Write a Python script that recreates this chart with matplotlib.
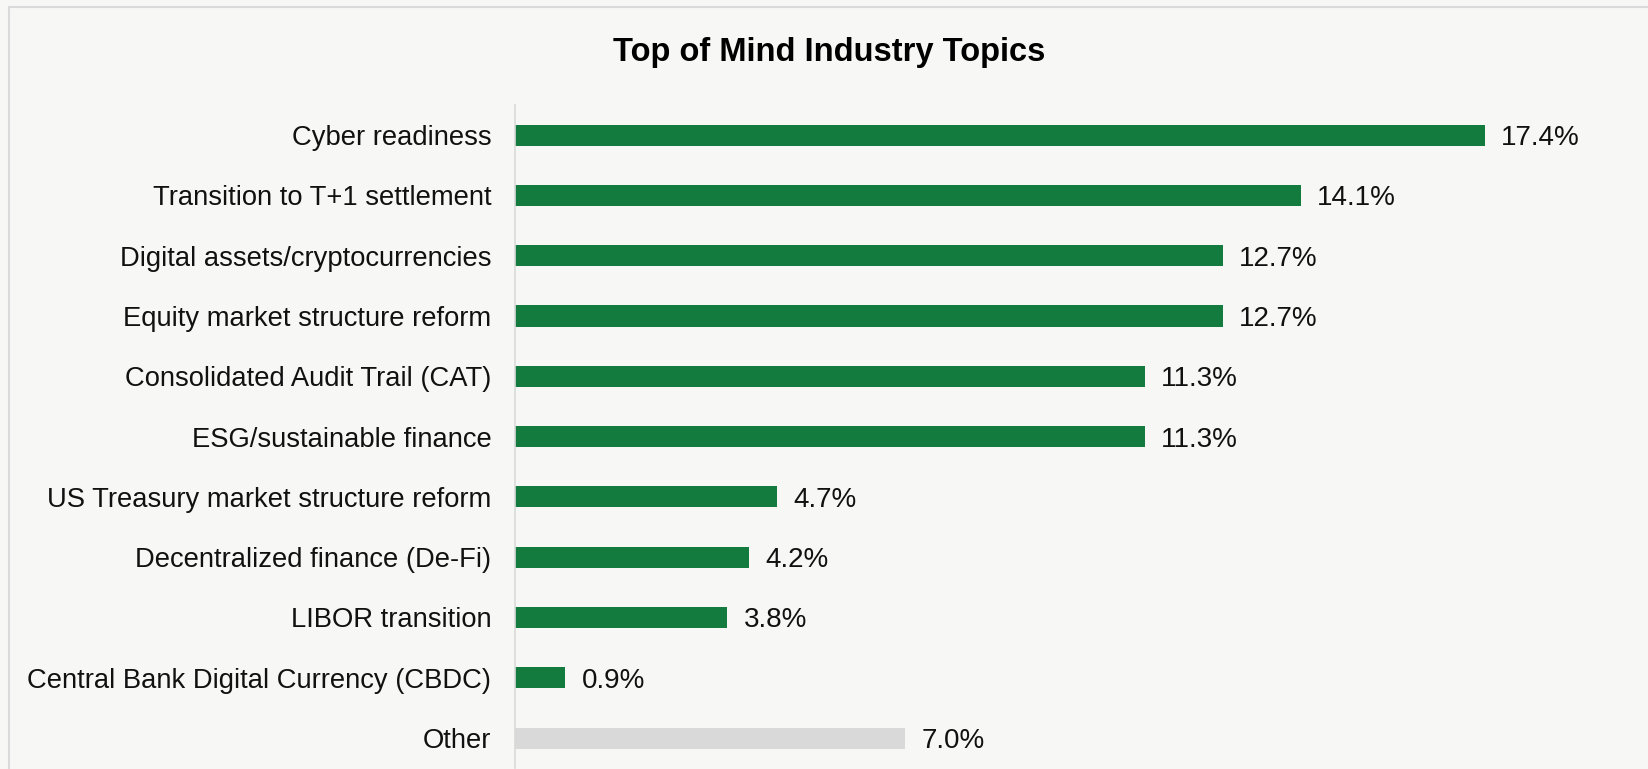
import numpy as np
import matplotlib.pyplot as plt
from matplotlib.patches import Rectangle

plt.rcParams['font.family'] = ['Liberation Sans', 'DejaVu Sans']

topics = ['Cyber readiness', 'Transition to T+1 settlement', 'Digital assets/cryptocurrencies',
          'Equity market structure reform', 'Consolidated Audit Trail (CAT)', 'ESG/sustainable finance',
          'US Treasury market structure reform', 'Decentralized finance (De-Fi)', 'LIBOR transition',
          'Central Bank Digital Currency (CBDC)', 'Other']
shares = [17.4, 14.1, 12.7, 12.7, 11.3, 11.3, 4.7, 4.2, 3.8, 0.9, 7.0]

green = '#147B3F'
grey = '#D9D9D9'
bg = '#F7F7F5'
colors = [grey if t == 'Other' else green for t in topics]

fig = plt.figure(figsize=(16.48, 7.69), dpi=100, facecolor=bg)
# outer frame line (only top and left show)
fig.patches.append(Rectangle((9 / 1648, -0.05), 1.1, 1 - 7 / 769 + 0.05, transform=fig.transFigure,
                             fill=False, edgecolor='#DADADA', linewidth=1.5, zorder=0))

ax = fig.add_axes([515 / 1648, 0.001, 0.6593, 0.8625])
ax.set_facecolor(bg)
y = np.arange(len(topics))
ax.barh(y, shares, height=0.35, color=colors)
for yi, v in zip(y, shares):
    ax.text(v + 0.3, yi, f'{v:.1f}%', va='center_baseline', ha='left', fontsize=20, color='#111111')

ax.set_ylim(len(topics) - 0.5, -0.5)
ax.set_xlim(0, 19.5)
ax.set_yticks(y)
ax.set_yticklabels(topics, fontsize=19.7, color='#111111', va='center_baseline')
ax.tick_params(axis='y', length=0, pad=17)
ax.set_xticks([])
for s in ['top', 'right', 'bottom']:
    ax.spines[s].set_visible(False)
ax.spines['left'].set_color('#D9D9D9')
ax.spines['left'].set_linewidth(1.2)

fig.text(829 / 1648, 1 - 52 / 769, 'Top of Mind Industry Topics', ha='center', va='center',
         fontsize=23.5, fontweight='bold', color='#000000')

fig.savefig('out.png', dpi=100, facecolor=bg)
